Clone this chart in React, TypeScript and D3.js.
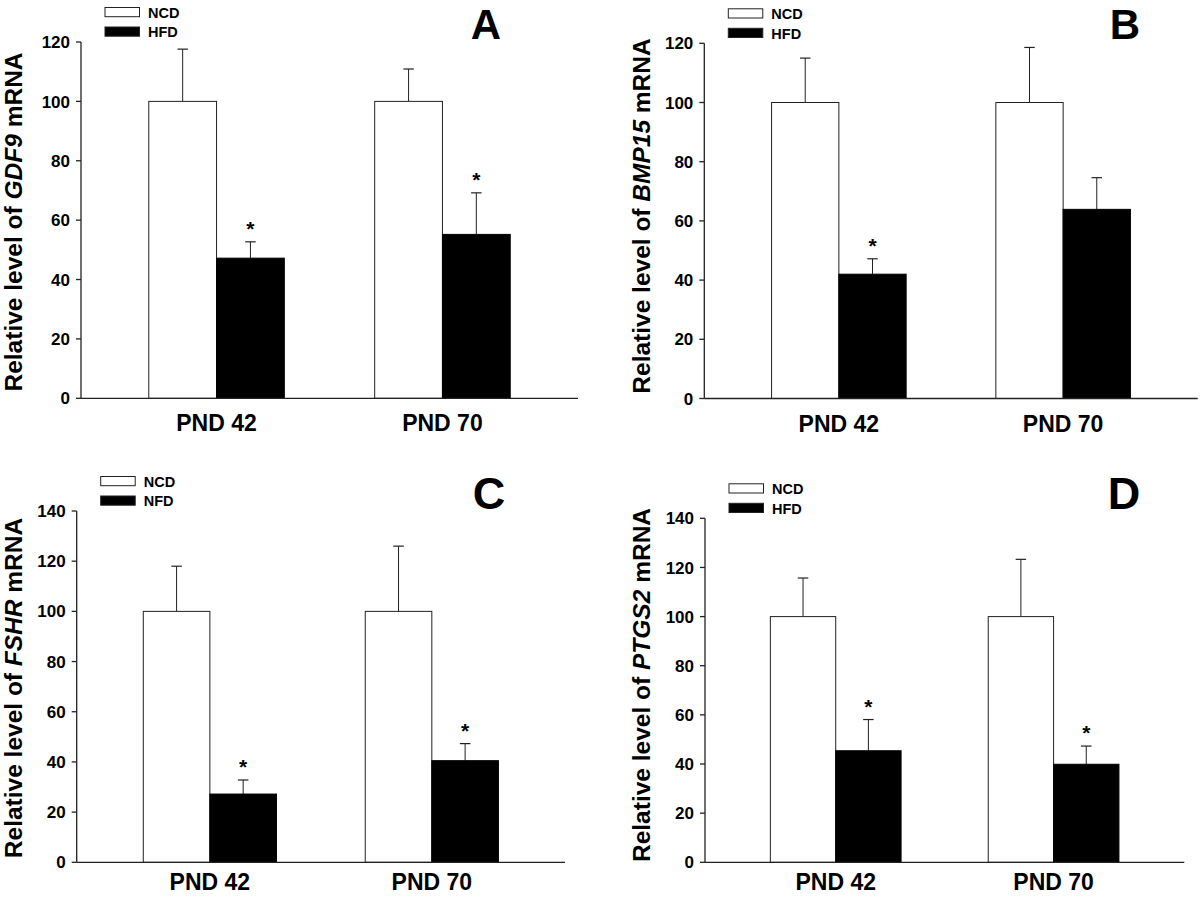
import React from "react";
import * as d3 from "d3";

const categories = ["PND 42", "PND 70"];

const ncdA = [100, 100];
const ncdErrA = [17.6, 10.9];
const hfdA = [47.2, 55.2];
const hfdErrA = [5.5, 14.0];
const starsA = [true, true];

const ncdB = [100, 100];
const ncdErrB = [15.0, 18.6];
const hfdB = [42.0, 63.9];
const hfdErrB = [5.2, 10.7];
const starsB = [true, false];

const ncdC = [100, 100];
const ncdErrC = [18.0, 26.0];
const hfdC = [27.2, 40.5];
const hfdErrC = [5.6, 6.8];
const starsC = [true, true];

const ncdD = [100, 100];
const ncdErrD = [15.7, 23.3];
const hfdD = [45.4, 39.9];
const hfdErrD = [12.7, 7.4];
const starsD = [true, true];

const genes = ["GDF9", "BMP15", "FSHR", "PTGS2"];
const panelLetters = ["A", "B", "C", "D"];
const legendA = ["NCD", "HFD"];
const legendB = ["NCD", "HFD"];
const legendC = ["NCD", "NFD"];
const legendD = ["NCD", "HFD"];

const yTicksTop = [0, 20, 40, 60, 80, 100, 120];
const yTicksBottom = [0, 20, 40, 60, 80, 100, 120, 140];

const FONT = "'Liberation Sans', Arial, Helvetica, sans-serif";

type PanelProps = {
  gene: string;
  letter: string;
  legend: string[];
  ncd: number[];
  ncdErr: number[];
  hfd: number[];
  hfdErr: number[];
  stars: boolean[];
  ticks: number[];
  x0: number;
  x1: number;
  y0: number;
  yTop: number;
  letterX: number;
  letterY: number;
  letterSize: number;
  labelX: number;
  labelY: number;
  xLabelDy: number;
};

function Panel(p: PanelProps) {
  const ymax = p.ticks[p.ticks.length - 1];
  const y = d3.scaleLinear().domain([0, ymax]).range([p.y0, p.yTop]);
  const x = d3.scalePoint<string>().domain(categories).range([p.x0, p.x1]).padding(0.6);
  const bw = x.step() * 0.3;
  const stroke = "#222";
  const capW = 10.5;
  const legX = p.x0 + 24;
  const legY = p.yTop - 34.5;

  return (
    <g>
      {categories.map((c, i) => {
        const cx = x(c) as number;
        const ncdTop = y(p.ncd[i]);
        const ncdCap = y(p.ncd[i] + p.ncdErr[i]);
        const hTop = y(p.hfd[i]);
        const hCap = y(p.hfd[i] + p.hfdErr[i]);
        const nx = cx - bw;
        const hx = cx;
        return (
          <g key={c}>
            <line x1={nx + bw / 2} x2={nx + bw / 2} y1={ncdTop} y2={ncdCap} stroke={stroke} strokeWidth={1} />
            <line x1={nx + bw / 2 - capW / 2} x2={nx + bw / 2 + capW / 2} y1={ncdCap} y2={ncdCap} stroke={stroke} strokeWidth={1.2} />
            <rect x={nx} y={ncdTop} width={bw} height={p.y0 - ncdTop} fill="#fff" stroke={stroke} strokeWidth={1} />
            <line x1={hx + bw / 2} x2={hx + bw / 2} y1={hTop} y2={hCap} stroke={stroke} strokeWidth={1} />
            <line x1={hx + bw / 2 - capW / 2} x2={hx + bw / 2 + capW / 2} y1={hCap} y2={hCap} stroke={stroke} strokeWidth={1.2} />
            <rect x={hx} y={hTop} width={bw} height={p.y0 - hTop} fill="#000" stroke="#000" strokeWidth={1} />
            {p.stars[i] ? (
              <text x={hx + bw / 2} y={hCap - 6} textAnchor="middle" fontFamily={FONT} fontWeight="bold" fontSize={21} fill="#000">
                *
              </text>
            ) : null}
            <text x={cx} y={p.y0 + p.xLabelDy} textAnchor="middle" fontFamily={FONT} fontWeight="bold" fontSize={23} fill="#000">
              {c}
            </text>
          </g>
        );
      })}
      <line x1={p.x0} x2={p.x1} y1={p.y0} y2={p.y0} stroke={stroke} strokeWidth={1.3} />
      <line x1={p.x0} x2={p.x0} y1={p.y0} y2={p.yTop} stroke={stroke} strokeWidth={1.3} />
      {p.ticks.map((t) => (
        <g key={t}>
          <line x1={p.x0 - 5} x2={p.x0} y1={y(t)} y2={y(t)} stroke={stroke} strokeWidth={1.3} />
          <text x={p.x0 - 11} y={y(t)} dy="0.36em" textAnchor="end" fontFamily={FONT} fontWeight="bold" fontSize={17} fill="#000">
            {t}
          </text>
        </g>
      ))}
      <text
        transform={`translate(${p.labelX},${p.labelY}) rotate(-90)`}
        textAnchor="middle"
        fontFamily={FONT}
        fontWeight="bold"
        fontSize={24.5}
        fill="#000"
      >
        Relative level of <tspan fontStyle="italic">{p.gene}</tspan> mRNA
      </text>
      {p.legend.map((l, k) => (
        <g key={l}>
          <rect x={legX} y={legY + k * 19.5} width={34.5} height={9.2} fill={k === 0 ? "#fff" : "#000"} stroke={stroke} strokeWidth={1} />
          <text x={legX + 43} y={legY + k * 19.5 + 10.2} fontFamily={FONT} fontWeight="bold" fontSize={14.5} fill="#000">
            {l}
          </text>
        </g>
      ))}
      <text x={p.letterX} y={p.letterY} textAnchor="middle" fontFamily={FONT} fontWeight="bold" fontSize={p.letterSize} fill="#000">
        {p.letter}
      </text>
    </g>
  );
}

export default function App() {
  return (
    <svg width={1200} height={903} style={{ position: "absolute", left: 0, top: 0, background: "#fff" }}>
      <rect x={0} y={0} width={1200} height={903} fill="#fff" />
      <Panel gene={genes[0]} letter={panelLetters[0]} legend={legendA} ncd={ncdA} ncdErr={ncdErrA} hfd={hfdA} hfdErr={hfdErrA} stars={starsA}
        ticks={yTicksTop} x0={81} x1={578} y0={398.3} yTop={42} letterX={486} letterY={38.5} letterSize={42} labelX={22} labelY={222} xLabelDy={33} />
      <Panel gene={genes[1]} letter={panelLetters[1]} legend={legendB} ncd={ncdB} ncdErr={ncdErrB} hfd={hfdB} hfdErr={hfdErrB} stars={starsB}
        ticks={yTicksTop} x0={704.3} x1={1197.7} y0={398.5} yTop={43.3} letterX={1125} letterY={38.5} letterSize={42} labelX={650} labelY={216} xLabelDy={33} />
      <Panel gene={genes[2]} letter={panelLetters[2]} legend={legendC} ncd={ncdC} ncdErr={ncdErrC} hfd={hfdC} hfdErr={hfdErrC} stars={starsC}
        ticks={yTicksBottom} x0={76.7} x1={565} y0={862.3} yTop={511} letterX={489} letterY={509} letterSize={45} labelX={22} labelY={688} xLabelDy={28} />
      <Panel gene={genes[3]} letter={panelLetters[3]} legend={legendD} ncd={ncdD} ncdErr={ncdErrD} hfd={hfdD} hfdErr={hfdErrD} stars={starsD}
        ticks={yTicksBottom} x0={705} x1={1184.3} y0={862.3} yTop={518.3} letterX={1124} letterY={509} letterSize={45} labelX={650} labelY={685} xLabelDy={28} />
    </svg>
  );
}
